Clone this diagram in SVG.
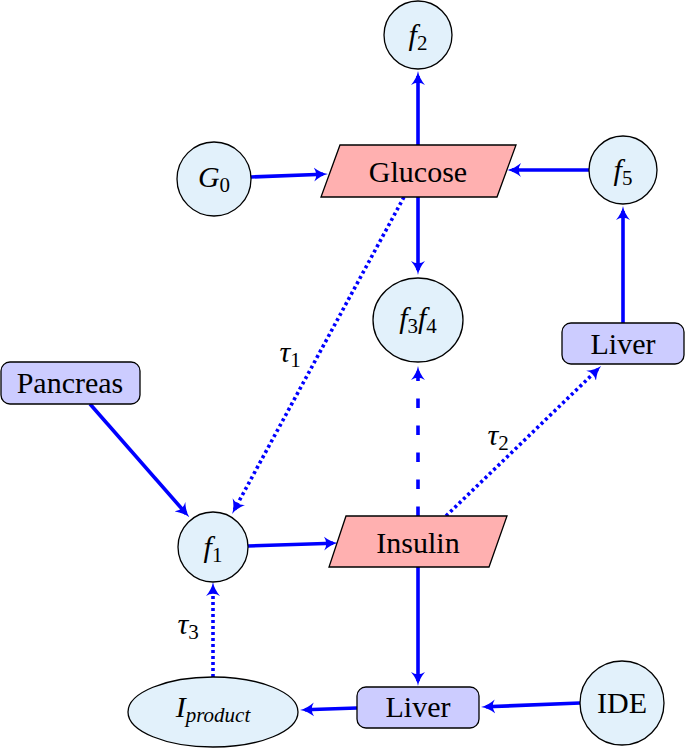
<svg xmlns="http://www.w3.org/2000/svg" width="685" height="748" viewBox="0 0 685 748" font-family="'Liberation Serif', serif">
<defs>
<marker id="ah" viewBox="0 0 14 15" refX="9" refY="7.5" markerWidth="14" markerHeight="15" markerUnits="userSpaceOnUse" orient="auto">
<path d="M0,0.5 Q7,6.3 14,7.5 Q7,8.7 0,14.5 Q4.5,7.5 0,0.5 z" fill="#0000ff"/>
</marker>
</defs>
<g id="connectors" fill="none" stroke="#0000ff" stroke-width="3.6" marker-end="url(#ah)">
<path d="M251,177 L323,174.2"/>
<path d="M589,170 L512,170"/>
<path d="M418,145 L418,76"/>
<path d="M418,197 L418,270"/>
<path stroke-dasharray="3 3" d="M404,197 L234.5,509.5"/>
<path d="M90,404 L186,513.5"/>
<path d="M248,546 L333,543.2"/>
<path stroke-dasharray="9.5 17.5" d="M418,516 L418,371"/>
<path stroke-dasharray="3 3" d="M446,516 L597.5,369.5"/>
<path d="M623,323 L623,211"/>
<path d="M418,567 L418,681"/>
<path d="M580,703 L486,706.8"/>
<path d="M357,708 L305,709.8"/>
<path stroke-dasharray="3 3" d="M213,677 L213,587"/>
</g>
<g id="labels" font-family="serif" font-size="30" font-style="italic" text-anchor="middle" fill="#000">
<text font-family="serif" x="290" y="362">τ<tspan font-size="21" font-style="normal" dy="5">1</tspan></text>
<text font-family="serif" x="498" y="445">τ<tspan font-size="21" font-style="normal" dy="5">2</tspan></text>
<text font-family="serif" x="188" y="634">τ<tspan font-size="21" font-style="normal" dy="5">3</tspan></text>
</g>
<g id="nodes" stroke="#000" stroke-width="1.3">
<g id="f2">
<circle fill="#e2f1fb" cx="418" cy="35" r="34"/>
<text font-family="serif" font-size="30" font-style="italic" text-anchor="middle" stroke="none" x="418" y="45">f<tspan font-size="21" font-style="normal" dy="5">2</tspan></text>
</g>
<g id="G0">
<circle fill="#e2f1fb" cx="214" cy="179" r="37"/>
<text font-family="serif" font-size="30" font-style="italic" text-anchor="middle" stroke="none" x="214" y="187">G<tspan font-size="21" font-style="normal" dy="5">0</tspan></text>
</g>
<g id="glucose">
<polygon fill="#ffb0b0" points="340,145 516,145 497,197 321,197"/>
<text font-family="serif" font-size="30" text-anchor="middle" stroke="none" x="418" y="182">Glucose</text>
</g>
<g id="f5">
<circle fill="#e2f1fb" cx="623" cy="170" r="34"/>
<text font-family="serif" font-size="30" font-style="italic" text-anchor="middle" stroke="none" x="623" y="180">f<tspan font-size="21" font-style="normal" dy="5">5</tspan></text>
</g>
<g id="f3f4">
<ellipse fill="#e2f1fb" cx="418" cy="320" rx="45" ry="42"/>
<text font-family="serif" font-size="30" font-style="italic" text-anchor="middle" stroke="none" x="418" y="328">f<tspan font-size="21" font-style="normal" dy="5">3</tspan><tspan dy="-5">f</tspan><tspan font-size="21" font-style="normal" dy="5">4</tspan></text>
</g>
<g id="liver-top">
<rect fill="#ccccff" x="562" y="323" width="122" height="41" rx="9"/>
<text font-family="serif" font-size="30" text-anchor="middle" stroke="none" x="623" y="354">Liver</text>
</g>
<g id="pancreas">
<rect fill="#ccccff" x="1" y="362" width="139" height="42" rx="9"/>
<text font-family="serif" font-size="30" text-anchor="middle" stroke="none" x="70" y="393">Pancreas</text>
</g>
<g id="f1">
<circle fill="#e2f1fb" cx="213" cy="547" r="35"/>
<text font-family="serif" font-size="30" font-style="italic" text-anchor="middle" stroke="none" x="213" y="557">f<tspan font-size="21" font-style="normal" dy="5">1</tspan></text>
</g>
<g id="insulin">
<polygon fill="#ffb0b0" points="346,516 507,516 489,567 329,567"/>
<text font-family="serif" font-size="30" text-anchor="middle" stroke="none" x="418" y="553">Insulin</text>
</g>
<g id="liver-bottom">
<rect fill="#ccccff" x="357" y="687" width="122" height="41" rx="9"/>
<text font-family="serif" font-size="30" text-anchor="middle" stroke="none" x="418" y="717">Liver</text>
</g>
<g id="IDE">
<circle fill="#e2f1fb" cx="622" cy="703" r="42"/>
<text font-family="serif" font-size="30" text-anchor="middle" stroke="none" x="622" y="713">IDE</text>
</g>
<g id="Iproduct">
<ellipse fill="#e2f1fb" cx="213" cy="712" rx="85" ry="35"/>
<text font-family="serif" font-size="30" font-style="italic" text-anchor="middle" stroke="none" x="213" y="717">I<tspan font-size="21" dy="5">product</tspan></text>
</g>
</g>
</svg>
